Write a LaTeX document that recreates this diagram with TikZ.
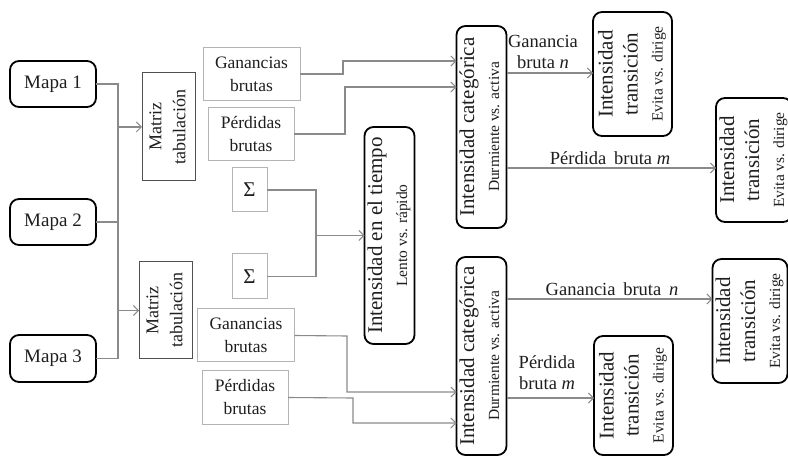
\documentclass[tikz,border=0pt]{standalone}
\usepackage{fontspec}
\setmainfont{Liberation Serif}
\usepackage{graphicx}
\usetikzlibrary{arrows.meta}
\definecolor{conn}{HTML}{8A8A8A}
\definecolor{txt}{HTML}{1E1E1E}
\definecolor{lightb}{HTML}{B4B4B4}
\definecolor{darkb}{HTML}{505050}
\newcommand{\myrot}[1]{\rotatebox{90}{\begin{tabular}{@{}c@{}}#1\end{tabular}}}
\newcommand{\bigf}{\fontsize{21}{25}\selectfont}
\newcommand{\subf}{\fontsize{15.5}{18}\selectfont}
\begin{document}
\begin{tikzpicture}[x=1pt,y=-1pt,
  every node/.style={inner sep=0pt,outer sep=0pt,text=txt},
  mapbox/.style={draw=black,line width=1.8pt,rounded corners=9pt,font=\fontsize{19}{22}\selectfont},
  intbox/.style={draw=black,line width=1.8pt,rounded corners=9pt},
  grosbox/.style={draw=lightb,line width=1pt,align=center,font=\fontsize{17.5}{23}\selectfont},
  matbox/.style={draw=darkb,line width=1pt},
  sigbox/.style={draw=lightb,line width=1pt,font=\fontsize{21}{24}\selectfont},
  conn/.style={draw=conn,line width=1.1pt},
  arr/.style={conn,-{Straight Barb[length=5pt,width=10pt,line width=1pt]}},
  lab/.style={align=center,font=\fontsize{18.5}{21}\selectfont}]
\useasboundingbox (0,0) rectangle (788,457);
% Mapas
\node[mapbox,minimum width=86pt,minimum height=46pt] (m1) at (53,84) {Mapa 1};
\node[mapbox,minimum width=86pt,minimum height=46pt] (m2) at (53,222) {Mapa 2};
\node[mapbox,minimum width=86pt,minimum height=47pt] (m3) at (53,358.5) {Mapa 3};
% Matriz
\node[matbox,minimum width=53pt,minimum height=108pt] (mt1) at (168.5,127)
  {\fontsize{18}{24}\selectfont\myrot{Matriz\\tabulación}};
\node[matbox,minimum width=53pt,minimum height=97pt] (mt2) at (165.5,310.5)
  {\fontsize{18}{24}\selectfont\myrot{Matriz\\tabulación}};
% gross boxes
\node[grosbox,minimum width=97pt,minimum height=53pt] (g1) at (251.5,74) {Ganancias\\brutas};
\node[grosbox,minimum width=86pt,minimum height=53pt] (p1) at (251,134) {Pérdidas\\brutas};
\node[sigbox,minimum width=35pt,minimum height=44pt] (s1) at (249.5,190) {Σ};
\node[sigbox,minimum width=35pt,minimum height=45pt] (s2) at (249.5,276.5) {Σ};
\node[grosbox,minimum width=97pt,minimum height=53pt] (g2) at (246,335.5) {Ganancias\\brutas};
\node[grosbox,minimum width=86pt,minimum height=53pt] (p2) at (245,397.5) {Pérdidas\\brutas};
% intensity boxes
\node[intbox,minimum width=47pt,minimum height=217pt] (it) at (389.5,235.5)
  {\bigf\myrot{Intensidad en el tiempo\\{\subf Lento vs. rápido}}};
\node[intbox,minimum width=47pt,minimum height=202pt] (ic1) at (481.5,127)
  {\bigf\myrot{Intensidad categórica\\{\subf Durmiente vs. activa}}};
\node[intbox,minimum width=47pt,minimum height=198pt] (ic2) at (481.5,356)
  {\bigf\myrot{Intensidad categórica\\{\subf Durmiente vs. activa}}};
\node[intbox,minimum width=79pt,minimum height=124pt] (t1) at (632.5,74)
  {\bigf\myrot{Intensidad\\transición\\{\subf Evita vs. dirige}}};
\node[intbox,minimum width=76pt,minimum height=124pt] (t2) at (754,160)
  {\bigf\myrot{Intensidad\\transición\\{\subf Evita vs. dirige}}};
\node[intbox,minimum width=74pt,minimum height=124pt] (t3) at (750,321)
  {\bigf\myrot{Intensidad\\transición\\{\subf Evita vs. dirige}}};
\node[intbox,minimum width=79pt,minimum height=119pt] (t4) at (633.5,395.5)
  {\bigf\myrot{Intensidad\\transición\\{\subf Evita vs. dirige}}};
% connectors left
\coordinate (j1) at (118,127);
\coordinate (j2) at (118,310.5);
\draw[conn] (m1.east) -| (m3.east -| j1) -- (m3.east);
\draw[conn] (m2.east) -- (m2.east -| j1);
\draw[arr] (j1) -- (mt1.west);
\draw[arr] (j2) -- (mt2.west);
% to categorical 1
\draw[arr] (g1.east) -- (343,74) |- (ic1.west |- 0,61);
\draw[arr] (p1.east) -- (345,134) |- (ic1.west |- 0,87);
% sums
\coordinate (j3) at (316,235.5);
\draw[conn] (s1.east) -| (s2.east -| j3) -- (s2.east);
\draw[arr] (j3) -- (it.west);
% to categorical 2
\draw[arr] (g2.east) -- (347,336) |- (ic2.west |- 0,392);
\draw[arr] (p2.east) -- (353,398) |- (ic2.west |- 0,423);
% outgoing
\draw[arr] (ic1.east |- 0,73) -- (t1.west |- 0,73);
\node[lab] (l1) at (543,52) {Ganancia\\bruta \textit{n}};
\draw[arr] (ic1.east |- 0,168) -- (t2.west |- 0,168);
\node[lab,anchor=south] (l2) at (610,165) {Pérdida\ \,bruta \textit{m}};
\draw[arr] (ic2.east |- 0,299) -- (t3.west |- 0,299);
\node[lab,anchor=south] (l3) at (612,296) {Ganancia\ \,bruta\ \,\textit{n}};
\draw[arr] (ic2.east |- 0,398) -- (t4.west |- 0,398);
\node[lab] (l4) at (547,372.5) {Pérdida\\bruta \textit{m}};
\end{tikzpicture}
\end{document}
